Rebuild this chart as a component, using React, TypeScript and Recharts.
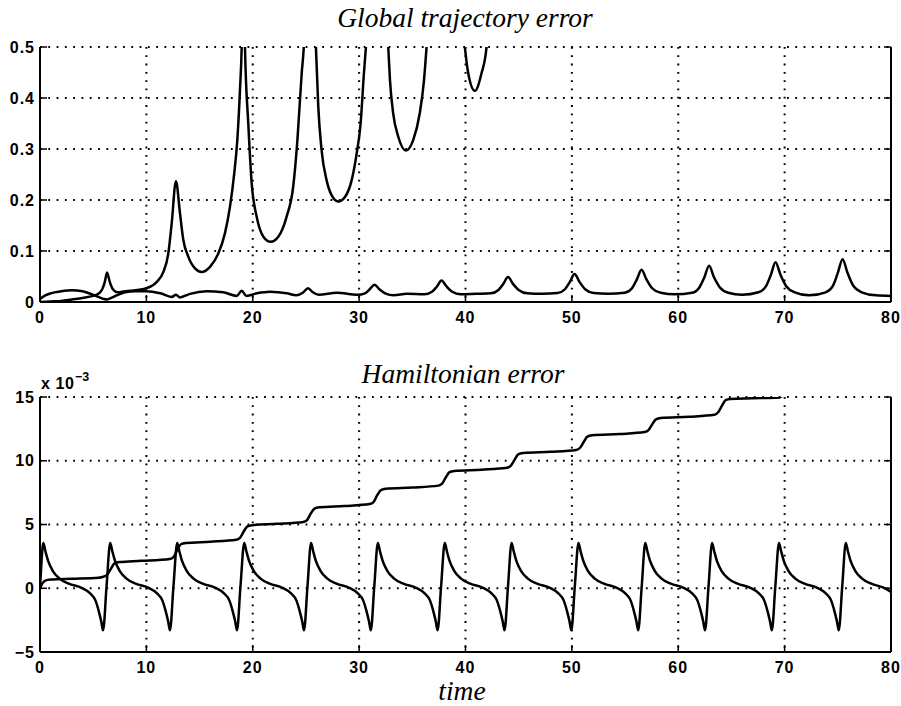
import React from 'react';
import { LineChart, Line, XAxis, YAxis, CartesianGrid } from 'recharts';

// ---------- Axis ticks ----------
const timeTicks = [0, 10, 20, 30, 40, 50, 60, 70, 80];
const trajTicks = [0, 0.1, 0.2, 0.3, 0.4, 0.5];
const trajTickLabels = ['0', '0.1', '0.2', '0.3', '0.4', '0.5'];
const hamTicks = [-5, 0, 5, 10, 15];
const hamTickLabels = ['\u22125', '0', '5', '10', '15'];

// ---------- Global trajectory error: growing curve (clipped at 0.5) ----------
const trajTimeA = [
  0, 1, 2, 3, 4, 5, 5.4, 5.85, 6.1, 6.3, 6.55, 6.85, 7.3, 8.0, 8.5, 10.0, 11.0, 11.6, 12.06, 12.38, 12.78, 13.16,
  13.47, 13.94, 14.57, 15.2, 15.98, 16.76, 17.39, 17.86, 18.26, 18.55, 18.8, 18.96, 19.12, 19.27, 19.58,
  19.9, 20.37, 21.0, 21.68, 22.4, 23.18, 23.8, 24.2, 24.6, 24.8, 25.35, 25.94, 26.16, 26.47, 26.94,
  27.4, 28.04, 28.67, 29.3, 29.76, 30.14, 30.45, 30.64, 31.7, 32.74, 32.9, 33.2, 33.68, 34.4, 35.09,
  35.7, 36.1, 36.34, 38.1, 39.94, 40.26, 40.88, 41.5, 41.98, 42.5, 43.0,
];
const trajErrA = [
  0, 0.001, 0.002, 0.005, 0.008, 0.012, 0.015, 0.025, 0.04, 0.058, 0.04, 0.025, 0.019, 0.021, 0.022, 0.027, 0.04, 0.059, 0.095, 0.154, 0.237, 0.174,
  0.122, 0.089, 0.066, 0.059, 0.069, 0.095, 0.135, 0.187, 0.252, 0.318, 0.416, 0.5, 0.7, 0.5, 0.35,
  0.233, 0.167, 0.128, 0.118, 0.128, 0.167, 0.226, 0.318, 0.448, 0.5, 0.9, 0.5, 0.383, 0.298, 0.239,
  0.21, 0.197, 0.206, 0.239, 0.29, 0.35, 0.448, 0.5, 1.0, 0.5, 0.435, 0.37, 0.324, 0.297, 0.318,
  0.37, 0.435, 0.5, 1.2, 0.5, 0.448, 0.414, 0.448, 0.5, 0.8, 1.2,
];

// ---------- Global trajectory error: small curve ----------
const trajTimeB = [
  0, 0.5, 1, 2, 3, 4, 5, 5.6, 6.0, 6.3, 6.7, 7.2, 8, 9, 10, 11.3, 12.38, 12.78, 13.16, 14.1,
  15.67, 17.2, 18.5, 18.96, 19.4, 20.4, 21.6, 23.2, 24.1, 24.7, 25.2, 25.65, 26.2, 27.9,
  29.85, 30.55, 31.0, 31.45, 31.9, 32.45, 33.25, 34.5,
  36.15, 36.85, 37.3, 37.75, 38.2, 38.75, 39.55, 41.0,
  42.4, 43.1, 43.55, 44.0, 44.45, 45.0, 45.8, 47.2,
  48.65, 49.35, 49.8, 50.25, 50.7, 51.25, 52.05, 53.4,
  54.95, 55.65, 56.1, 56.55, 57.0, 57.55, 58.35, 59.7,
  61.3, 62.0, 62.45, 62.9, 63.35, 63.9, 64.7, 66.0,
  67.55, 68.25, 68.7, 69.15, 69.6, 70.15, 70.95, 72.3,
  73.85, 74.55, 75.0, 75.45, 75.9, 76.45, 77.25, 78.6, 80,
];
const trajErrB = [
  0.006, 0.013, 0.017, 0.021, 0.023, 0.021, 0.014, 0.009, 0.006, 0.005, 0.008, 0.013, 0.019, 0.021, 0.021, 0.017, 0.01, 0.014, 0.009, 0.016,
  0.021, 0.019, 0.012, 0.022, 0.012, 0.017, 0.02, 0.017, 0.013, 0.018, 0.027, 0.019, 0.014, 0.018,
  0.014, 0.017, 0.025, 0.034, 0.025, 0.017, 0.013, 0.016,
  0.015, 0.02, 0.03, 0.042, 0.031, 0.02, 0.015, 0.016,
  0.017, 0.0235, 0.0355, 0.049, 0.036, 0.0235, 0.017, 0.016,
  0.0175, 0.025, 0.039, 0.055, 0.04, 0.025, 0.0175, 0.016,
  0.018, 0.027, 0.044, 0.063, 0.045, 0.027, 0.018, 0.015,
  0.018, 0.029, 0.048, 0.071, 0.049, 0.029, 0.018, 0.014,
  0.019, 0.031, 0.053, 0.078, 0.054, 0.031, 0.019, 0.013,
  0.019, 0.032, 0.057, 0.084, 0.058, 0.032, 0.019, 0.013, 0.012,
];

// ---------- Hamiltonian error: oscillating curve (x 10^-3) ----------
const hamTimeOsc = [
  0, 0.12,
  0.31, 0.51, 0.78, 1.21, 1.81, 2.71, 3.91, 4.71, 5.21, 5.51, 5.76, 5.93, 6.26,
  6.6, 6.8, 7.07, 7.5, 8.1, 9.0, 10.2, 11.0, 11.5, 11.8, 12.05, 12.22, 12.55,
  12.9, 13.1, 13.37, 13.8, 14.4, 15.3, 16.5, 17.3, 17.8, 18.1, 18.35, 18.52, 18.85,
  19.2, 19.4, 19.67, 20.1, 20.7, 21.6, 22.8, 23.6, 24.1, 24.4, 24.65, 24.82, 25.15,
  25.48, 25.68, 25.95, 26.38, 26.98, 27.88, 29.08, 29.88, 30.38, 30.68, 30.93, 31.1, 31.43,
  31.76, 31.96, 32.23, 32.66, 33.26, 34.16, 35.36, 36.16, 36.66, 36.96, 37.21, 37.38, 37.71,
  38.05, 38.25, 38.52, 38.95, 39.55, 40.45, 41.65, 42.45, 42.95, 43.25, 43.5, 43.67, 44.0,
  44.33, 44.53, 44.8, 45.23, 45.83, 46.73, 47.93, 48.73, 49.23, 49.53, 49.78, 49.95, 50.28,
  50.62, 50.82, 51.09, 51.52, 52.12, 53.02, 54.22, 55.02, 55.52, 55.82, 56.07, 56.24, 56.57,
  56.9, 57.1, 57.37, 57.8, 58.4, 59.3, 60.5, 61.3, 61.8, 62.1, 62.35, 62.52, 62.85,
  63.18, 63.38, 63.65, 64.08, 64.68, 65.58, 66.78, 67.58, 68.08, 68.38, 68.63, 68.8, 69.13,
  69.47, 69.67, 69.94, 70.37, 70.97, 71.87, 73.07, 73.87, 74.37, 74.67, 74.92, 75.09, 75.42,
  75.75, 75.95, 76.22, 76.65, 77.25, 78.15, 79.35, 80,
];
const hamErrOsc = [
  0, 1.8,
  3.55, 2.9, 2.1, 1.35, 0.78, 0.36, 0.03, -0.4, -0.95, -1.75, -2.6, -3.3, 0.2,
  3.55, 2.9, 2.1, 1.35, 0.78, 0.36, 0.03, -0.4, -0.95, -1.75, -2.6, -3.3, 0.2,
  3.55, 2.9, 2.1, 1.35, 0.78, 0.36, 0.03, -0.4, -0.95, -1.75, -2.6, -3.3, 0.2,
  3.55, 2.9, 2.1, 1.35, 0.78, 0.36, 0.03, -0.4, -0.95, -1.75, -2.6, -3.3, 0.2,
  3.55, 2.9, 2.1, 1.35, 0.78, 0.36, 0.03, -0.4, -0.95, -1.75, -2.6, -3.3, 0.2,
  3.55, 2.9, 2.1, 1.35, 0.78, 0.36, 0.03, -0.4, -0.95, -1.75, -2.6, -3.3, 0.2,
  3.55, 2.9, 2.1, 1.35, 0.78, 0.36, 0.03, -0.4, -0.95, -1.75, -2.6, -3.3, 0.2,
  3.55, 2.9, 2.1, 1.35, 0.78, 0.36, 0.03, -0.4, -0.95, -1.75, -2.6, -3.3, 0.2,
  3.55, 2.9, 2.1, 1.35, 0.78, 0.36, 0.03, -0.4, -0.95, -1.75, -2.6, -3.3, 0.2,
  3.55, 2.9, 2.1, 1.35, 0.78, 0.36, 0.03, -0.4, -0.95, -1.75, -2.6, -3.3, 0.2,
  3.55, 2.9, 2.1, 1.35, 0.78, 0.36, 0.03, -0.4, -0.95, -1.75, -2.6, -3.3, 0.2,
  3.55, 2.9, 2.1, 1.35, 0.78, 0.36, 0.03, -0.4, -0.95, -1.75, -2.6, -3.3, 0.2,
  3.55, 2.9, 2.1, 1.35, 0.78, 0.36, 0.03, -0.3,
];

// ---------- Hamiltonian error: staircase curve (x 10^-3, clipped at 15) ----------
const hamTimeDrift = [
  0, 0.2, 0.5, 1.0, 3, 5.5, 5.95, 6.3, 6.65, 7.0, 7.45, 9.5, 12.2, 12.55, 12.9, 13.25, 13.7, 16,
  18.45, 18.8, 19.15, 19.5, 19.95, 22.3, 24.75, 25.1, 25.45, 25.8, 26.25, 28.6, 31.0, 31.35, 31.7,
  32.05, 32.5, 35, 37.45, 37.8, 38.15, 38.5, 38.95, 41.5, 43.9, 44.25, 44.6, 44.95, 45.4, 48, 50.4,
  50.75, 51.1, 51.45, 51.9, 54.5, 56.85, 57.2, 57.55, 57.9, 58.35, 61, 63.4, 63.75, 64.1, 64.45,
  64.9, 67, 69.5, 69.85, 70.2, 70.6, 71.2,
];
const hamErrDrift = [
  0, 0.35, 0.6, 0.68, 0.74, 0.82, 0.9, 1.05, 1.5, 1.95, 2.05, 2.15, 2.3, 2.45, 3.0, 3.45, 3.55, 3.65,
  3.8, 3.95, 4.45, 4.85, 4.95, 5.05, 5.2, 5.35, 5.85, 6.25, 6.35, 6.45, 6.6, 6.75, 7.3,
  7.7, 7.8, 7.9, 8.05, 8.2, 8.7, 9.1, 9.2, 9.3, 9.45, 9.6, 10.05, 10.5, 10.6, 10.7, 10.85,
  11.0, 11.45, 11.9, 12.0, 12.1, 12.25, 12.4, 12.85, 13.25, 13.35, 13.45, 13.6, 13.8, 14.3, 14.75,
  14.85, 14.9, 14.97, 15.2, 15.8, 16.3, 16.4,
];

const zip = (xs: number[], ys: number[]) => xs.map((t, i) => ({ t, v: ys[i] }));

const trajSeries = [zip(trajTimeA, trajErrA), zip(trajTimeB, trajErrB)];
const hamSeries = [zip(hamTimeOsc, hamErrOsc), zip(hamTimeDrift, hamErrDrift)];

const BLACK = '#000';
const sansFont = '"Liberation Sans", Arial, Helvetica, sans-serif';
const axisLineStyle = { stroke: BLACK, strokeWidth: 2 };
const tickLineStyle = { stroke: BLACK, strokeWidth: 1.5 };
const blank = () => '';

const XTick = (props: any) => {
  const { x, y, payload } = props;
  return (
    <text x={x} y={y + 11.5} textAnchor="middle" fontFamily={sansFont} fontWeight={700} fontSize={16} letterSpacing={1} fill={BLACK}>
      {String(payload.value)}
    </text>
  );
};

const makeYTick = (ticks: number[], labels: string[]) => (props: any) => {
  const { x, y, payload } = props;
  const i = ticks.findIndex((t) => Math.abs(t - payload.value) < 1e-9);
  return (
    <text x={x} y={y + 5.7} textAnchor="end" fontFamily={sansFont} fontWeight={700} fontSize={16} letterSpacing={1} fill={BLACK}>
      {i >= 0 ? labels[i] : String(payload.value)}
    </text>
  );
};

type PanelProps = {
  height: number;
  marginTop: number;
  xHeight: number;
  yDomain: [number, number];
  yTicks: number[];
  yLabels: string[];
  series: { t: number; v: number }[][];
};

function Panel({ height, marginTop, xHeight, yDomain, yTicks, yLabels, series }: PanelProps) {
  const YTick = makeYTick(yTicks, yLabels);
  return (
    <LineChart width={901} height={height} margin={{ top: marginTop, right: 0, bottom: 0, left: 0 }}>
      <CartesianGrid
        xAxisId="b"
        yAxisId="l"
        stroke={BLACK}
        strokeWidth={2}
        strokeDasharray="1.8 6.5"
      />
      <XAxis
        xAxisId="b"
        type="number"
        dataKey="t"
        domain={[0, 80]}
        ticks={timeTicks}
        interval={0}
        height={xHeight}
        tickSize={-7}
        tickMargin={16.5}
        axisLine={axisLineStyle}
        tickLine={tickLineStyle}
        tick={XTick}
        allowDataOverflow
      />
      <XAxis
        xAxisId="t"
        orientation="top"
        type="number"
        dataKey="t"
        domain={[0, 80]}
        ticks={timeTicks}
        interval={0}
        height={0}
        tickSize={-7}
        axisLine={axisLineStyle}
        tickLine={tickLineStyle}
        tickFormatter={blank}
        allowDataOverflow
      />
      <YAxis
        yAxisId="l"
        type="number"
        domain={yDomain}
        ticks={yTicks}
        interval={0}
        allowDataOverflow
        width={40}
        tickSize={-7}
        tickMargin={12}
        axisLine={axisLineStyle}
        tickLine={tickLineStyle}
        tick={YTick}
      />
      <YAxis
        yAxisId="r"
        orientation="right"
        type="number"
        domain={yDomain}
        ticks={yTicks}
        interval={0}
        allowDataOverflow
        width={10}
        tickSize={-7}
        axisLine={axisLineStyle}
        tickLine={tickLineStyle}
        tickFormatter={blank}
      />
      {series.map((d, i) => (
        <Line
          key={i}
          xAxisId="b"
          yAxisId="l"
          data={d}
          dataKey="v"
          type="monotone"
          stroke={BLACK}
          strokeWidth={2.5}
          dot={false}
          activeDot={false}
          isAnimationActive={false}
        />
      ))}
    </LineChart>
  );
}

const titleFont = '"Liberation Serif", "Times New Roman", serif';

export default function App() {
  return (
    <div style={{ position: 'absolute', left: 0, top: 0, width: 901, height: 706, background: '#fff', overflow: 'hidden' }}>
      <div style={{ position: 'absolute', left: 0, top: 0 }}>
        <Panel
          height={330}
          marginTop={47}
          xHeight={28}
          yDomain={[0, 0.5]}
          yTicks={trajTicks}
          yLabels={trajTickLabels}
          series={trajSeries}
        />
      </div>
      <div style={{ position: 'absolute', left: 0, top: 330 }}>
        <Panel
          height={376}
          marginTop={67}
          xHeight={54}
          yDomain={[-5, 15]}
          yTicks={hamTicks}
          yLabels={hamTickLabels}
          series={hamSeries}
        />
      </div>
      <svg width={901} height={706} style={{ position: 'absolute', left: 0, top: 0, pointerEvents: 'none' }}>
        <text x={465} y={27} textAnchor="middle" fontFamily={titleFont} fontStyle="italic" fontSize={27.5} fill={BLACK}>
          Global trajectory error
        </text>
        <text x={463} y={383} textAnchor="middle" fontFamily={titleFont} fontStyle="italic" fontSize={27.5} fill={BLACK}>
          Hamiltonian error
        </text>
        <text x={462} y={700} textAnchor="middle" fontFamily={titleFont} fontStyle="italic" fontSize={27.5} fill={BLACK}>
          time
        </text>
        <text x={41} y={389} fontFamily={sansFont} fontWeight={700} fontSize={16} letterSpacing={0.6} fill={BLACK}>
          x 10
        </text>
        <text x={75} y={381} fontFamily={sansFont} fontWeight={700} fontSize={12.5} fill={BLACK}>
          {'\u22123'}
        </text>
      </svg>
    </div>
  );
}
